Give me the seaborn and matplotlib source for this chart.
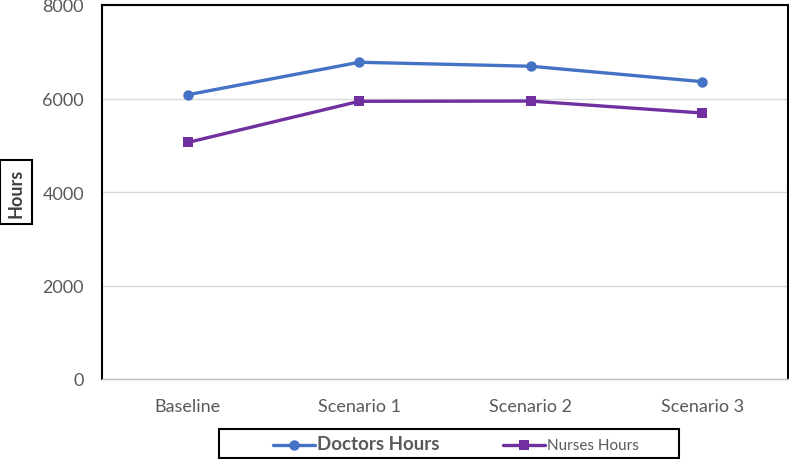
import matplotlib
matplotlib.use('Agg')
import matplotlib.pyplot as plt
from matplotlib.patches import Rectangle
import seaborn as sns
import pandas as pd

# Data
scenarios = ['Baseline', 'Scenario 1', 'Scenario 2', 'Scenario 3']
doctors_hours = [6080, 6775, 6690, 6360]
nurses_hours = [5060, 5940, 5945, 5690]
series_names = ['Doctors Hours', 'Nurses Hours']
y_ticks = [0, 2000, 4000, 6000, 8000]

df = pd.DataFrame({
    'scenario': scenarios * 2,
    'hours': doctors_hours + nurses_hours,
    'series': [series_names[0]] * 4 + [series_names[1]] * 4,
})

sns.set_style('white')
plt.rcParams['font.family'] = ['Lato', 'DejaVu Sans']

fig = plt.figure(figsize=(7.89, 4.60), dpi=100)
ax = fig.add_axes([102 / 789, 1 - 380 / 460, 686 / 789, 374 / 460])

colors = {'Doctors Hours': '#4472C4', 'Nurses Hours': '#7030A0'}
sns.lineplot(data=df, x='scenario', y='hours', hue='series', style='series',
             palette=colors, markers={'Doctors Hours': 'o', 'Nurses Hours': 's'},
             dashes=False, linewidth=2.4, markersize=7.5, markeredgewidth=0,
             sort=False, ax=ax)

ax.set_xlim(-0.5, 3.5)
ax.set_ylim(0, 8000)
ax.set_yticks(y_ticks)
ax.yaxis.grid(True, color='#d9d9d9', linewidth=1)
ax.set_axisbelow(True)
ax.tick_params(axis='both', length=0, labelsize=13, labelcolor='#595959')
ax.tick_params(axis='x', pad=14)
ax.tick_params(axis='y', pad=13)
ax.set_xlabel('')
ax.set_ylabel('')

# boxed axis title
fig.text(16 / 789, 1 - 193 / 460, 'Hours', rotation=90, ha='center', va='center',
         fontsize=13, fontweight='bold', color='#404040',
         bbox=dict(boxstyle='square,pad=0.4', facecolor='white', edgecolor='black', linewidth=1.5))

for side in ['left', 'top', 'right']:
    ax.spines[side].set_color('black')
    ax.spines[side].set_linewidth(1.5)
ax.spines['bottom'].set_color('#bfbfbf')
ax.spines['bottom'].set_linewidth(1)

handles, labels = ax.get_legend_handles_labels()
ax.get_legend().remove()
leg = fig.legend(handles, labels, ncol=2, loc='center', bbox_to_anchor=(456 / 789, 1 - 445 / 460),
                 frameon=False, handlelength=3.0, columnspacing=4.6, handletextpad=0.15)
leg.texts[0].set_fontweight('bold')
leg.texts[0].set_fontsize(13.5)
leg.texts[1].set_fontsize(11)
for t in leg.texts:
    t.set_color('#595959')

# legend box, drawn wider than the entries as in the reference
fig.patches.append(Rectangle((219 / 789, 1 - 459 / 460), 460 / 789, 29 / 460,
                             transform=fig.transFigure, fill=False,
                             edgecolor='black', linewidth=1.5))

plt.savefig('out.png', dpi=100)
